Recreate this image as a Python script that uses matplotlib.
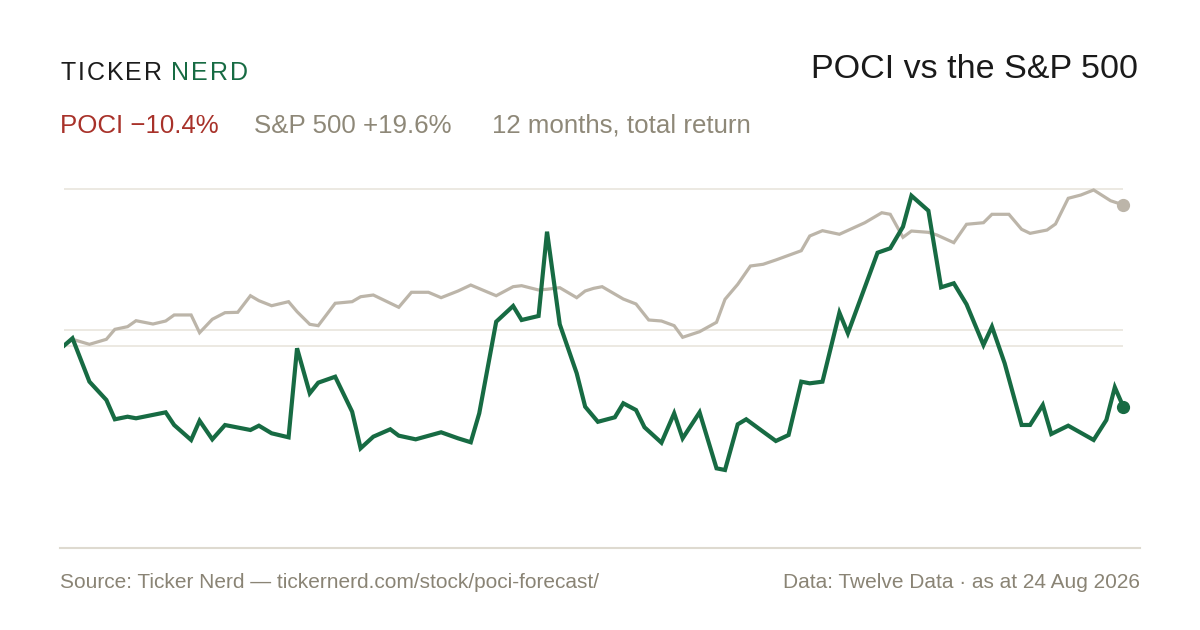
import matplotlib
matplotlib.use("Agg")
import matplotlib.pyplot as plt
from matplotlib.lines import Line2D

# trading-day index (0..250) and % return
poci_days = [0, 2, 6, 10, 12, 15, 17, 24, 26, 30, 32, 35, 38, 44, 46, 49, 53, 55, 58, 60,
             64, 68, 70, 73, 77, 79, 83, 89, 93, 96, 98, 102, 106, 108, 112, 114, 117, 121,
             123, 126, 130, 132, 135, 137, 141, 144, 146, 150, 154, 156, 159, 161, 165, 168,
             171, 174, 176, 179, 183, 185, 192, 195, 198, 200, 204, 207, 210, 213, 217, 219,
             222, 226, 228, 231, 233, 237, 243, 246, 248, 250]
poci_ret = [0.0, 1.03, -5.01, -7.56, -10.25, -9.89, -10.11, -9.28, -11.05, -13.13, -10.45,
            -13.04, -11.05, -11.74, -11.14, -12.20, -12.76, -0.36, -6.63, -5.15,
            -4.32, -9.19, -14.29, -12.67, -11.64, -12.53, -13.04, -12.06, -12.90, -13.45,
            -9.42, 3.34, 5.53, 3.58, 4.14, 15.88, 2.98, -3.84,
            -8.50, -10.6, -9.97, -8.02, -8.96, -11.36, -13.51, -9.42, -12.90, -9.28, -17.08,
            -17.31, -10.95, -10.25, -11.98, -13.27,
            -12.44, -5.01, -5.24, -5.01, 4.60, 1.73, 12.95, 13.57, 16.57, 20.89, 18.80, 8.13,
            8.69, 5.77, 0.10, 2.65,
            -2.45, -11.04, -11.04, -8.26, -12.30, -11.14, -13.13, -10.35, -5.79, -8.50]

spx_days = [0, 2, 6, 10, 12, 15, 17, 21, 24, 26, 30, 32, 35, 38, 41, 44, 46, 49, 53, 55,
            58, 60, 64, 68, 70, 73, 79, 82, 86, 89, 93, 96, 102, 106, 108, 112, 114, 117,
            121, 123, 125, 127, 132, 135, 138, 141, 144, 146, 150, 154, 156, 159, 162, 165,
            168, 174, 176, 179, 183, 189, 193, 195, 198, 200, 204, 206, 210, 213, 217, 219,
            223, 226, 228, 232, 234, 237, 240, 243, 247, 250]
spx_ret = [0.0, 0.89, 0.19, 0.89, 2.28, 2.65, 3.48, 3.02, 3.44, 4.28, 4.28, 1.81, 3.68,
           4.60, 4.65, 6.96, 6.27, 5.57, 6.13, 4.74,
           2.98, 2.79, 5.91, 6.13, 6.82, 7.06, 5.35, 7.44, 7.44, 6.69, 7.62, 8.45, 6.96,
           8.22, 8.36, 7.76, 7.86, 8.08,
           6.69, 7.62, 7.99, 8.22, 6.50, 5.81, 3.58, 3.44, 2.79, 1.17, 1.95, 3.26, 6.46,
           8.55, 11.10, 11.34,
           11.94, 13.23, 15.28, 16.02, 15.52, 17.13, 18.52, 18.30, 15.10, 15.97, 15.79,
           15.42, 14.35, 16.91, 17.13, 18.30,
           18.30, 16.21, 15.65, 16.11, 16.95, 20.53, 20.99, 21.69, 20.19, 19.60]

grid_levels = [21.8, 2.25, 0.0]

title = "POCI vs the S&P 500"
legend_items = [("POCI \u221210.4%", "#a8322a"),
                ("S&P 500 +19.6%", "#8e8878"),
                ("12 months, total return", "#8e8878")]
source_txt = "Source: Ticker Nerd \u2014 tickernerd.com/stock/poci-forecast/"
data_txt = "Data: Twelve Data \u00b7 as at 24 Aug 2026"

GREEN = "#176b43"
GREY = "#bcb5a9"
W, H = 1200, 630

plt.rcParams['font.family'] = ['Liberation Sans', 'DejaVu Sans']

fig = plt.figure(figsize=(12, 6.3), dpi=100)
fig.patch.set_facecolor("white")

# plot box in pixels: x 64..1123, y 180..530
ax = fig.add_axes([64 / W, 1 - 530 / H, (1123.3 - 64) / W, 350 / H])
k = 7.18  # px per percent
ax.set_xlim(0, 250)
ax.set_ylim((345.7 - 530) / k, (345.7 - 180) / k)
ax.axis("off")

for g in grid_levels:
    ax.axhline(g, color="#ebe7df", lw=1.3, zorder=1)

ax.plot(spx_days, spx_ret, color=GREY, lw=2.3, solid_joinstyle="miter", zorder=2)
ax.plot(poci_days, poci_ret, color=GREEN, lw=3.0, solid_joinstyle="miter", zorder=3)
ax.plot(spx_days[-1], spx_ret[-1], "o", color=GREY, ms=8.5, zorder=4, clip_on=False)
ax.plot(poci_days[-1], poci_ret[-1], "o", color=GREEN, ms=8.5, zorder=4, clip_on=False)


def px(x, y):
    return x / W, 1 - y / H


# logo with letter spacing
fig.canvas.draw()
r = fig.canvas.get_renderer()
lx = 60.5
for word, col in (("TICKER", "#1c1c1c"), ("NERD", GREEN)):
    for ch in word:
        t = fig.text(*px(lx, 80), ch, color=col, fontsize=18, va="baseline", ha="left")
        lx += t.get_window_extent(renderer=r).width + 2.0
    lx += 7

fig.text(*px(1138, 78), title, fontsize=24.5, color="#1a1a1a", ha="right", va="baseline")

for (txt, col), lx in zip(legend_items, [60, 254, 492]):
    fig.text(*px(lx, 133), txt, fontsize=18.6, color=col, ha="left", va="baseline")

fig.add_artist(Line2D([60 / W, 1140 / W], [1 - 548 / H, 1 - 548 / H],
                      color="#dedad0", lw=1.5, transform=fig.transFigure))

fig.text(*px(60, 588), source_txt, fontsize=15, color="#8a8475", ha="left", va="baseline")
fig.text(*px(1140, 588), data_txt, fontsize=15, color="#8a8475", ha="right", va="baseline")

fig.savefig("out.png", dpi=100, facecolor="white")
